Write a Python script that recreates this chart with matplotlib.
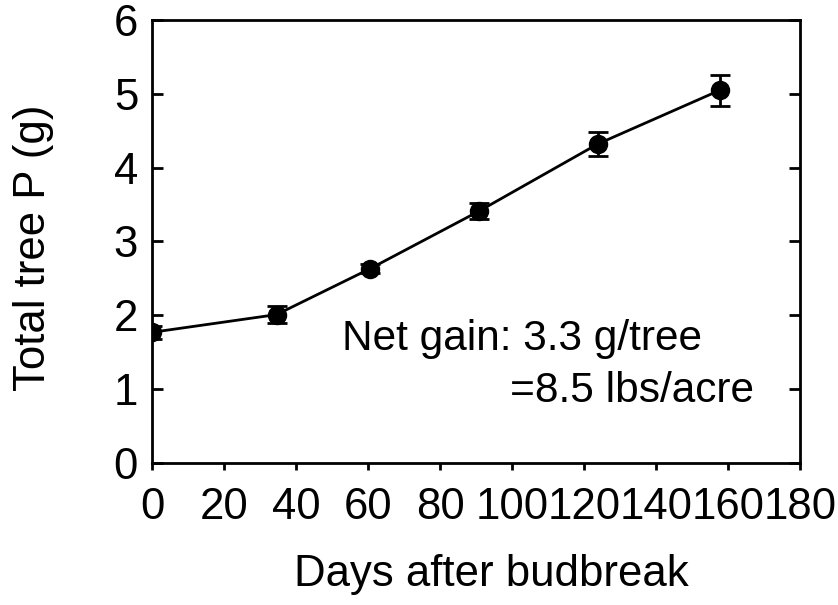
import matplotlib
matplotlib.use("Agg")
import matplotlib.pyplot as plt

# Total tree phosphorus over the season
days = [0, 34.6, 60.5, 90.8, 123.8, 157.8]
total_p = [1.77, 2.01, 2.63, 3.41, 4.32, 5.05]
p_err = [0.09, 0.12, 0.06, 0.11, 0.16, 0.21]

x_ticks = [0, 20, 40, 60, 80, 100, 120, 140, 160, 180]
y_ticks = [0, 1, 2, 3, 4, 5, 6]

plt.rcParams['font.family'] = ['Liberation Sans', 'DejaVu Sans']
FS = 31.5

fig = plt.figure(figsize=(8.38, 6.05), dpi=100)
ax = fig.add_axes([0.1814, 0.2347, 0.9547 - 0.1814, 0.967 - 0.2347])

ax.errorbar(days, total_p, yerr=p_err, color='black', lw=2.0,
            marker='o', markersize=13, elinewidth=2.0, capsize=7,
            capthick=2.0, zorder=3)

ax.set_xlim(0, 180)
ax.set_ylim(0, 6)
ax.set_xticks(x_ticks)
ax.set_yticks(y_ticks)

for s in ax.spines.values():
    s.set_linewidth(2.0)

ax.tick_params(axis='x', direction='out', length=5, width=2.0,
               labelsize=FS, pad=12, top=False)
ax.tick_params(axis='y', direction='in', length=8, width=2.0,
               labelsize=FS, pad=10, right=True)

ax.set_xlabel('Days after budbreak', fontsize=FS, labelpad=19)
ax.set_ylabel('Total tree P (g)', fontsize=FS, labelpad=43)
ax.xaxis.label.set_x(0.523)
ax.yaxis.label.set_y(0.485)

ax.text(52.7, 1.53, 'Net gain: 3.3 g/tree', fontsize=30.5,
        ha='left', va='baseline')
ax.text(99.4, 0.83, '=8.5 lbs/acre', fontsize=30.5,
        ha='left', va='baseline')

fig.savefig('out.png', dpi=100)
